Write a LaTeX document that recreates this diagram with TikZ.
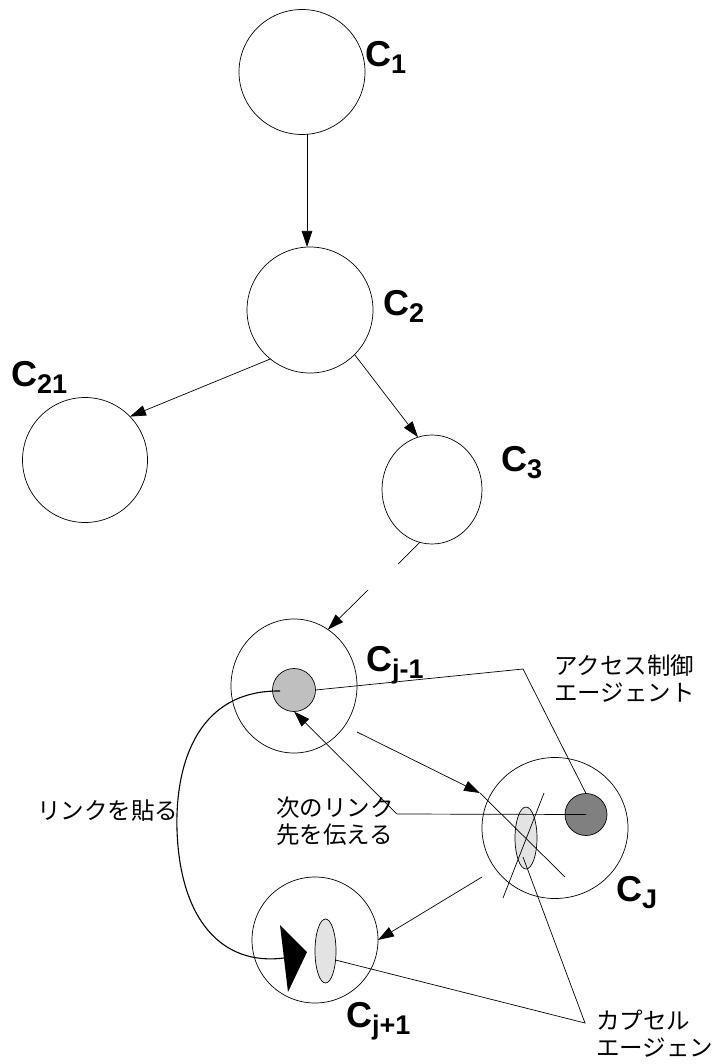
\documentclass[tikz,border=0pt]{standalone}
\usepackage{fontspec}
\setmainfont{Liberation Sans}
\newfontfamily\jp{Noto Sans CJK JP}
\usetikzlibrary{arrows.meta,shapes.geometric}
\newcommand\csub[1]{\raisebox{-7pt}{\fontsize{27}{27}\selectfont #1}}

\begin{document}
\begin{tikzpicture}[x=1pt,y=-1pt,
  ring/.style 2 args={draw, ellipse, line width=0.7pt, inner sep=0pt, outer sep=0pt,
                      minimum width=#1, minimum height=#2},
  agent/.style={fill=#1},
  lbl/.style={anchor=base west, inner sep=0pt, font=\bfseries\fontsize{36}{36}\selectfont},
  jlabel/.style={anchor=north west, inner sep=0pt, align=left, font=\jp\fontsize{23.5}{26.5}\selectfont},
  link/.style={line width=0.7pt},
  arr/.style={link, -{Triangle[length=16pt,width=10.5pt]}},
]
\useasboundingbox (0,0) rectangle (716,1064);

% cells
\node[ring={126}{125}] (c1)   at (302,72)    {};
\node[ring={126}{126}] (c2)   at (310,310)   {};
\node[ring={125}{125}] (c21)  at (85,460)    {};
\node[ring={100}{109}] (c3)   at (432,489.5) {};
\node[ring={126}{134}] (cj1)  at (294,686)   {};
\node[ring={146}{141}] (cjj)  at (555,828)   {};
\node[ring={126}{126}] (cjp1) at (315,940)   {};

% agents inside the cells
\node[ring={43}{43}, agent=black!25] (agent1) at (294,690)   {};
\node[ring={42}{42}, agent=black!50] (agent2) at (586,814.5) {};
\node[ring={22}{62}, agent=black!11] (cap1)   at (526,838)   {};
\node[ring={21}{64}, agent=black!11] (cap2)   at (325.5,951) {};

% cell names
\node[lbl] (c1l)   at (365,67)   {C\csub{1}};
\node[lbl] (c2l)   at (383,315)  {C\csub{2}};
\node[lbl] (c21l)  at (11,386)   {C\csub{21}};
\node[lbl] (c3l)   at (501,471)  {C\csub{3}};
\node[lbl] (cj1l)  at (366,671)  {C\csub{j-1}};
\node[lbl] (cjjl)  at (616,901)  {C\csub{J}};
\node[lbl] (cjp1l) at (346,1027) {C\csub{j+1}};

% Japanese captions
\node[jlabel] (acl) at (554,655)  {アクセス制御\\エージェント};
\node[jlabel] (lnk) at (37,800)   {リンクを貼る};
\node[jlabel] (nxl) at (276,797)  {次のリンク\\先を伝える};
\node[jlabel] (cpl) at (596,1010) {カプセル\\エージェン};

% bend points and free ends
\coordinate (gapa) at (398,564);
\coordinate (gapb) at (368,590);
\coordinate (acc)  at (523,669);
\coordinate (nxt)  at (397,814);
\coordinate (capt) at (585,1023);
\coordinate (bend) at (177,830);
\coordinate (ta) at ([shift={(-35,-15)}]cjp1.center);
\coordinate (tb) at ([shift={(-8,12)}]cjp1.center);
\coordinate (tc) at ([shift={(-27,52)}]cjp1.center);
\coordinate (tm) at ([shift={(-31,18)}]cjp1.center);

% tree of cells
\draw[arr] ([xshift=5pt]c1.south) -- ([xshift=-3pt]c2.north);
\draw[arr] (c2.231) -- (c21.44);
\draw[arr] (c2.-45) -- (c3.105);
\draw[link] (c3.257) -- (gapa);
\draw[arr] (gapb) -- (cj1.59);
\draw[arr] ([shift={(63,46)}]cj1.center) -- ([shift={(-75,-35)}]cjj.center);
\draw[arr] ([shift={(-73,49)}]cjj.center) -- (cjp1.east);

% crossed-out capsule agent in C_J
\draw[link] ([shift={(-75,-35)}]cjj.center) -- ([shift={(10,49)}]cjj.center);
\draw[link] ([shift={(-11,-35)}]cjj.center) -- ([shift={(-52,70)}]cjj.center);

% access control agent pointer
\draw[link] (agent1.east) -- (acc) -- (agent2.north);

% next link destination
\draw[arr] (agent2.center) -- (nxt) -- (agent1.south);

% capsule agent pointers
\draw[link] ([shift={(-3,19)}]cap1.center) -- (capt) -- ([shift={(10,9)}]cap2.center);

% link being set up
\draw[line width=1.1pt] ([shift={(-14,1)}]agent1.center)
  .. controls (200,690) and (175,760) .. (bend)
  .. controls (180,920) and (222,966) .. (tm);
\fill (ta) -- (tb) -- (tc) -- cycle;
\end{tikzpicture}
\end{document}
